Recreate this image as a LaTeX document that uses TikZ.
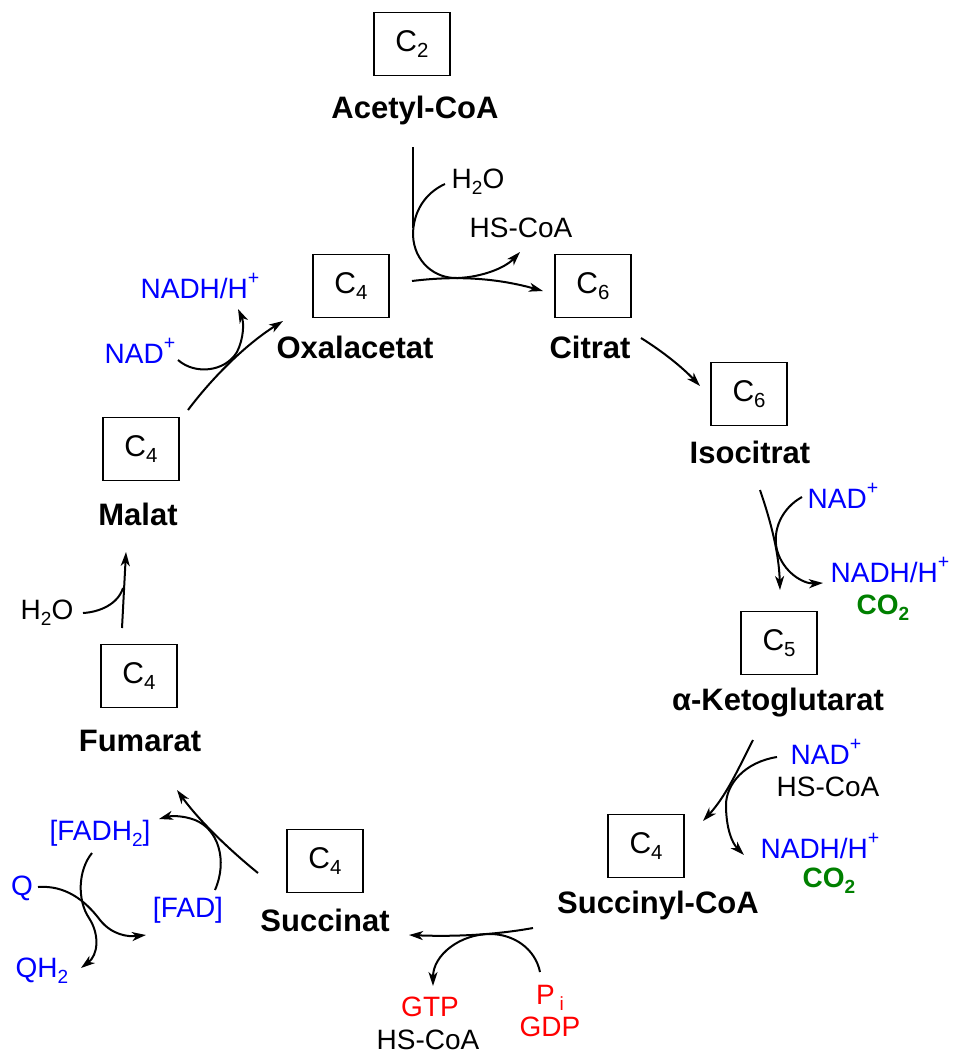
\documentclass[tikz,border=0pt]{standalone}
\usepackage{fontspec}
\usepackage{graphicx}
\setmainfont{Liberation Sans}
\usetikzlibrary{arrows.meta}
\definecolor{cblue}{RGB}{0,0,255}
\definecolor{cgreen}{RGB}{0,128,0}
\definecolor{cred}{RGB}{255,0,0}
\newcommand\sbx[1]{\raisebox{-0.22em}{\scalebox{0.68}{#1}}}
\newcommand\spx[1]{\raisebox{0.5em}{\scalebox{0.7}{#1}}}
\tikzset{
  cbox/.style={draw, line width=1.6pt, minimum width=76pt, minimum height=63pt, inner sep=0pt, font=\fontsize{30}{34}\selectfont},
  cname/.style={font=\fontsize{31}{36}\selectfont\bfseries, inner sep=0pt},
  reag/.style={font=\fontsize{28}{32}\selectfont, inner sep=0pt},
  rb/.style={reag, text=cblue},
  rg/.style={font=\fontsize{28}{32}\selectfont\bfseries, inner sep=0pt, text=cgreen},
  rr/.style={reag, text=cred},
  rx/.style={line width=2pt, -{Stealth[length=14pt,width=9pt,inset=4pt]}},
  rl/.style={line width=2pt}
}
\begin{document}
\begin{tikzpicture}[x=1pt,y=-1pt]
\useasboundingbox (0,0) rectangle (960,1061);
% boxes
\node[cbox] (b1) at (412,44) {C\sbx{2}};
\node[cbox] (b2) at (351,286) {C\sbx{4}};
\node[cbox] (b3) at (593,286) {C\sbx{6}};
\node[cbox] (b4) at (749,394) {C\sbx{6}};
\node[cbox] (b5) at (779,643) {C\sbx{5}};
\node[cbox] (b6) at (646,846) {C\sbx{4}};
\node[cbox] (b7) at (325,861) {C\sbx{4}};
\node[cbox] (b8) at (139,676) {C\sbx{4}};
\node[cbox] (b9) at (141,449) {C\sbx{4}};
% names
\node[cname] (n1) at (415,110) {Acetyl-CoA};
\node[cname] (n2) at (355,347) {Oxalacetat};
\node[cname] (n3) at (590,347) {Citrat};
\node[cname] (n4) at (750,452) {Isocitrat};
\node[cname] (n5) at (778,703) {α-Ketoglutarat};
\node[cname] (n6) at (658,905) {Succinyl-CoA};
\node[cname] (n7) at (325,920) {Succinat};
\node[cname] (n8) at (140,741) {Fumarat};
\node[cname] (n9) at (138,514) {Malat};
% reagents
\node[reag] (h2oa) at (478,182) {H\sbx{2}O};
\node[reag] (hscoa1) at (521,228) {HS-CoA};
\node[rb] (nadh1) at (200,286) {NADH/H\spx{+}};
\node[rb] (nad1) at (140,351) {NAD\spx{+}};
\node[rb] (nad2) at (843,496) {NAD\spx{+}};
\node[rb] (nadh2) at (890,570) {NADH/H\spx{+}};
\node[rg] (co2a) at (883,608) {CO\sbx{2}};
\node[rb] (nad3) at (826,752) {NAD\spx{+}};
\node[reag] (hscoa2) at (828,787) {HS-CoA};
\node[rb] (nadh3) at (820,846) {NADH/H\spx{+}};
\node[rg] (co2b) at (829,881) {CO\sbx{2}};
\node[rr] (gtp) at (430,1007) {GTP};
\node[reag] (hscoa3) at (428,1040) {HS-CoA};
\node[rr] (pi) at (550,998) {P\,\sbx{i}};
\node[rr] (gdp) at (550,1027) {GDP};
\node[rb] (fadh2) at (100,833) {[FADH\sbx{2}]};
\node[rb] (fad) at (188,910) {[FAD]};
\node[rb] (q) at (22,888) {Q};
\node[rb] (qh2) at (42,971) {QH\sbx{2}};
\node[reag] (h2ob) at (47,613) {H\sbx{2}O};
% connector coordinates
\coordinate (a1s) at (412,281); \coordinate (a1e) at (543,291);
\coordinate (acs) at (413,147); \coordinate (acm) at (413,228);
\coordinate (w1s) at (445,184); \coordinate (w1e) at (520,252);
\coordinate (a2s) at (641,338); \coordinate (a2e) at (700,386);
\coordinate (a3s) at (760,490); \coordinate (a3e) at (780,590);
\coordinate (s3s) at (802,497); \coordinate (s3e) at (823,583);
\coordinate (a4s) at (753,740); \coordinate (a4e) at (703,821);
\coordinate (s4s) at (777,757); \coordinate (s4e) at (744,855);
\coordinate (a5s) at (533,928); \coordinate (a5e) at (409,935);
\coordinate (s5s) at (540,972); \coordinate (s5e) at (433,986);
\coordinate (a6s) at (258,873); \coordinate (a6e) at (177,790);
\coordinate (s6s) at (215,890); \coordinate (s6e) at (159,819);
\coordinate (qas) at (92,853); \coordinate (qae) at (81,968);
\coordinate (qbs) at (38,887); \coordinate (qbe) at (146,935);
\coordinate (a8s) at (122,628); \coordinate (a8e) at (126,552);
\coordinate (s8s) at (83,613); \coordinate (s8e) at (123,588);
\coordinate (a9s) at (188,410); \coordinate (a9e) at (283,321);
\coordinate (s9s) at (178,360); \coordinate (s9e) at (238,309);
% Oxalacetat -> Citrat with acetyl-CoA, H2O, HS-CoA
\draw[rx] (a1s) .. controls (460,275) and (500,279) .. (a1e);
\draw[rl] (acs) -- (acm);
\draw[rx] (w1s) .. controls (425,193) and (413,212) .. (413,235) .. controls (414,262) and (435,279) .. (458,278) .. controls (482,277) and (505,268) .. (w1e);
% Citrat -> Isocitrat
\draw[rx] (a2s) .. controls (662,351) and (682,367) .. (a2e);
% Isocitrat -> aKG
\draw[rx] (a3s) .. controls (772,525) and (779,555) .. (a3e);
\draw[rx] (s3s) .. controls (782,508) and (772,530) .. (777,550) .. controls (783,572) and (803,584) .. (s3e);
% aKG -> Succinyl-CoA
\draw[rx] (a4s) .. controls (740,765) and (727,795) .. (a4e);
\draw[rx] (s4s) .. controls (745,762) and (726,784) .. (726,805) .. controls (726,828) and (732,843) .. (s4e);
% Succinyl-CoA -> Succinat
\draw[rx] (a5s) .. controls (500,934) and (460,937) .. (a5e);
\draw[rx] (s5s) .. controls (535,948) and (513,934) .. (490,934) .. controls (460,934) and (433,955) .. (s5e);
% Succinat -> Fumarat
\draw[rx] (a6s) .. controls (232,852) and (200,822) .. (a6e);
\draw[rx] (s6s) .. controls (228,860) and (218,829) .. (195,820) .. controls (182,815) and (170,816) .. (s6e);
% Q / QH2
\draw[rx] (qas) .. controls (78,870) and (77,900) .. (89,918) .. controls (100,935) and (98,955) .. (qae);
\draw[rx] (qbs) .. controls (65,885) and (85,900) .. (100,920) .. controls (112,935) and (128,937) .. (qbe);
% Fumarat -> Malat
\draw[rx] (a8s) -- (a8e);
\draw[rl] (s8s) .. controls (100,612) and (118,604) .. (s8e);
% Malat -> Oxalacetat
\draw[rx] (a9s) .. controls (212,378) and (245,345) .. (a9e);
\draw[rx] (s9s) .. controls (195,375) and (225,372) .. (237,352) .. controls (244,338) and (244,322) .. (s9e);
\end{tikzpicture}
\end{document}
